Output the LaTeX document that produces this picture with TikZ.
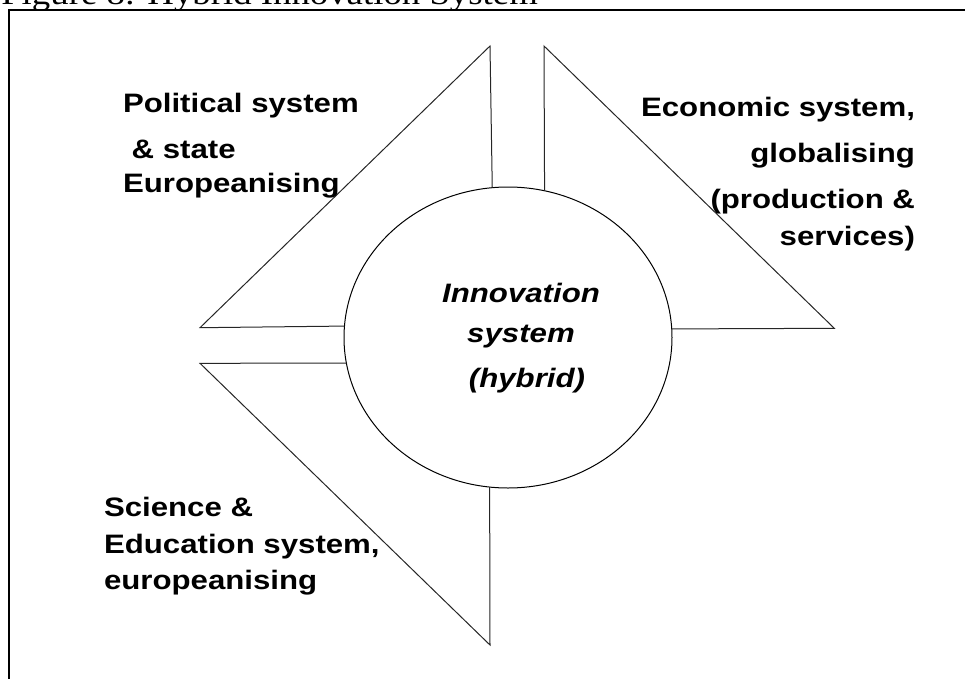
\documentclass[tikz,border=0pt]{standalone}
\usepackage{fontspec}
\usetikzlibrary{shapes.geometric}
\newfontfamily\labelfont[FakeStretch=1.17]{Liberation Sans}
\newfontfamily\titlefont[FakeStretch=1.15]{Liberation Serif}
\begin{document}
\begin{tikzpicture}[x=0.75pt,y=-0.75pt,
  edge/.style={line width=0.75pt, draw=black!85},
  frame/.style={line width=1.6pt, draw=black},
  lbl/.style={font=\labelfont\bfseries\fontsize{20}{24}\selectfont, inner sep=0pt, outer sep=0pt},
  corelbl/.style={lbl, font=\labelfont\bfseries\itshape\fontsize{20}{24}\selectfont},
]
\useasboundingbox (0,0) rectangle (965,679);

% caption line and outer frame, cut by the page edge
\begin{scope}
  \clip (0,0) rectangle (965,679);
  \node[anchor=base west, inner sep=0pt, font=\titlefont\fontsize{24}{28}\selectfont] (title) at (1,4) {Figure 8: Hybrid Innovation System};
  \draw[frame] (8.7,700) -- (8.7,10.3) -- (980,10.3);
\end{scope}

% central innovation system
\node[ellipse, draw=black, line width=0.75pt, inner sep=0pt, outer sep=0pt,
      minimum width=246pt, minimum height=225.75pt] (core) at (508,337.5) {};

% outer wedges
\coordinate (tlA) at (490,46);
\coordinate (tlB) at (200,327.7);
\coordinate (trA) at (544,46);
\coordinate (trB) at (834.3,328.3);
\coordinate (blA) at (200,363.3);
\coordinate (blB) at (490,645);

\draw[edge] (core.96.87) -- (tlA) -- (tlB) -- (core.176.57);
\draw[edge] (core.76.22) -- (trA) -- (trB) -- (core.3.22);
\draw[edge] (core.189.07) -- (blA) -- (blB) -- (core.263.13);

% labels (anchored at the baseline of their last line)
\node[lbl, anchor=base west, align=left] (pol) at (123,192)
  {Political system\\[10.5pt] \ \& state\\[1.5pt] Europeanising};
\node[lbl, anchor=base east, align=right] (eco) at (915,245)
  {Economic system,\\[10.5pt] globalising\\[10.5pt] (production \&\\[3.75pt] services)};
\node[corelbl, anchor=base, align=center] (inno) at (521,387)
  {Innovation\\[6pt] system\\[9.75pt] \hspace*{9pt}(hybrid)};
\node[lbl, anchor=base west, align=left] (sci) at (104,589)
  {Science \&\\[3.75pt] Education system,\\[3pt] europeanising};
\end{tikzpicture}
\end{document}
